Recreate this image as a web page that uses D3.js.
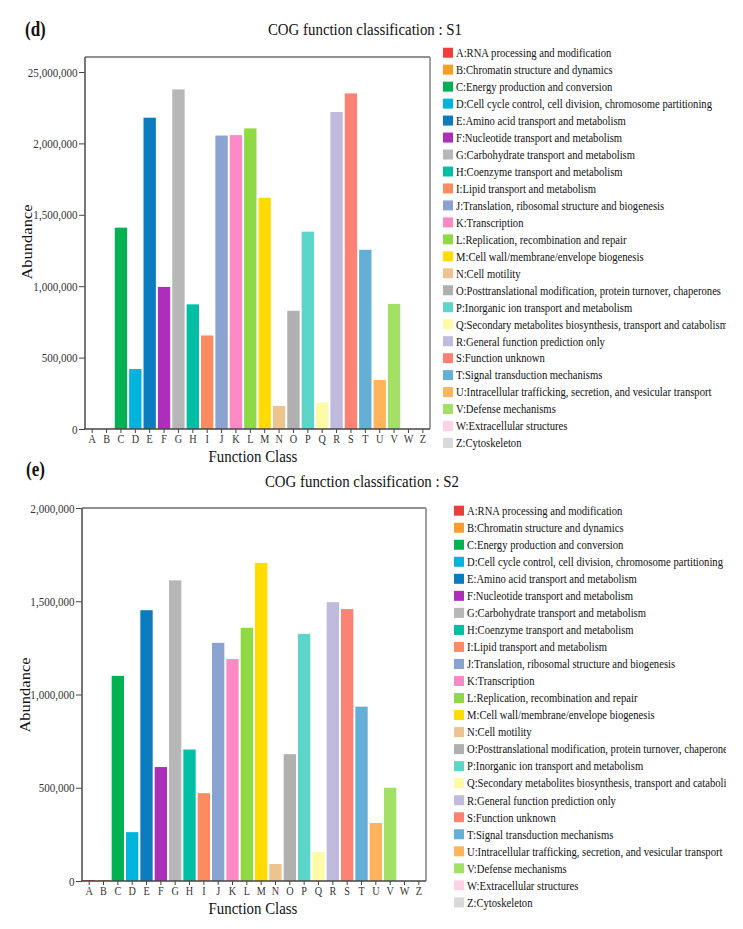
<!DOCTYPE html>
<html lang="en">
<head>
<meta charset="UTF-8" />
<title>COG function classification</title>
<script src="https://cdnjs.cloudflare.com/ajax/libs/d3/7.8.2/d3.min.js"></script>
<style>
  body { margin: 0; padding: 0; background: #fff; }
  svg { display: block; font-family: "Liberation Serif", "Times New Roman", serif; }
  .frame line, .tick line { vector-effect: non-scaling-stroke; }
</style>
</head>
<body>
<svg id="chart"></svg>
<script>
// ---- data -------------------------------------------------
const categories = ["A","B","C","D","E","F","G","H","I","J","K","L",
                    "M","N","O","P","Q","R","S","T","U","V","W","Z"];

const descriptions = [
  "A:RNA processing and modification",
  "B:Chromatin structure and dynamics",
  "C:Energy production and conversion",
  "D:Cell cycle control, cell division, chromosome partitioning",
  "E:Amino acid transport and metabolism",
  "F:Nucleotide transport and metabolism",
  "G:Carbohydrate transport and metabolism",
  "H:Coenzyme transport and metabolism",
  "I:Lipid transport and metabolism",
  "J:Translation, ribosomal structure and biogenesis",
  "K:Transcription",
  "L:Replication, recombination and repair",
  "M:Cell wall/membrane/envelope biogenesis",
  "N:Cell motility",
  "O:Posttranslational modification, protein turnover, chaperones",
  "P:Inorganic ion transport and metabolism",
  "Q:Secondary metabolites biosynthesis, transport and catabolism",
  "R:General function prediction only",
  "S:Function unknown",
  "T:Signal transduction mechanisms",
  "U:Intracellular trafficking, secretion, and vesicular transport",
  "V:Defense mechanisms",
  "W:Extracellular structures",
  "Z:Cytoskeleton"
];

const colors = ["#ef3d3b","#f9a024","#03b152","#00b5dd","#0a7cbf","#ad2fb9",
                "#b7b7b7","#00bfa5","#fd8b60","#8aa3d0","#fd8ac6","#8ed944",
                "#ffdb00","#edc48f","#b0b0b0","#5dd5c8","#fefaa8","#c0badc",
                "#fd8274","#62b0d5","#feb35d","#a2e066","#fdd2e6","#d9d9d9"];

const s1Values = [0, 0, 1410000, 420000, 2180000, 995000, 2378000, 873000,
                  655000, 2055000, 2058000, 2105000, 1620000, 162000, 828000,
                  1382000, 185000, 2220000, 2350000, 1255000, 343000, 876000, 0, 0];

const s2Values = [5000, 5000, 1100000, 262000, 1452000, 611000, 1612000, 705000,
                  471000, 1277000, 1190000, 1358000, 1706000, 91000, 680000,
                  1325000, 155000, 1495000, 1458000, 935000, 311000, 500000, 0, 0];

const s1TickValues = [0, 500000, 1000000, 1500000, 2000000, 2500000];
const s1TickLabels = ["0", "500,000", "1,000,000", "1,500,000", "2,000,000", "25,000,000"];
const s2TickValues = [0, 500000, 1000000, 1500000, 2000000];
const s2TickLabels = ["0", "500,000", "1,000,000", "1,500,000", "2,000,000"];

// ---- setup ------------------------------------------------
const W = 743, H = 929;
const K = 0.85;              // the figure is squeezed horizontally
const X = px => px / K;      // screen px -> viewBox units

const svg = d3.select("#chart")
  .attr("width", W).attr("height", H)
  .attr("viewBox", `0 0 ${W / K} ${H}`)
  .attr("preserveAspectRatio", "none");

svg.append("defs").append("clipPath").attr("id", "legendClip")
  .append("rect").attr("x", 0).attr("y", 0).attr("width", X(726)).attr("height", H);

function drawPanel(p) {
  const g = svg.append("g");

  const x = d3.scaleBand().domain(categories)
    .range([X(p.left), X(p.right)]).paddingInner(0.14).paddingOuter(0.07);
  const y = d3.scaleLinear().domain([0, p.yMax]).range([p.bottom, p.top]);

  // tag + title
  g.append("text").attr("x", X(p.tagX)).attr("y", p.tagY)
    .attr("font-size", 20).attr("font-weight", "bold").attr("fill", "#111")
    .text(p.tag);
  g.append("text").attr("x", X(p.titleX)).attr("y", p.titleY)
    .attr("text-anchor", "middle").attr("font-size", 17.5).attr("fill", "#111")
    .text(p.title);

  // bars
  g.append("g").selectAll("rect")
    .data(p.values)
    .join("rect")
    .attr("x", (d, i) => x(categories[i]))
    .attr("width", x.bandwidth())
    .attr("y", d => y(d))
    .attr("height", d => y(0) - y(d))
    .attr("fill", (d, i) => colors[i]);

  // frame (top + right)
  const frame = g.append("g").attr("class", "frame");
  frame.append("line").attr("x1", X(p.left)).attr("x2", X(p.right))
    .attr("y1", p.top).attr("y2", p.top).attr("stroke", "#222").attr("stroke-width", 1);
  frame.append("line").attr("x1", X(p.right)).attr("x2", X(p.right))
    .attr("y1", p.top).attr("y2", p.bottom).attr("stroke", "#8a8a8a").attr("stroke-width", 1.6);

  // y axis
  const yAxis = g.append("g").attr("transform", `translate(${X(p.left)},0)`)
    .call(d3.axisLeft(y).tickValues(p.tickValues)
      .tickFormat((d, i) => p.tickLabels[i])
      .tickSize(X(6)).tickPadding(X(1.5)));
  yAxis.select(".domain").remove();
  yAxis.selectAll(".tick line").attr("stroke", "#444").attr("stroke-width", 1);
  yAxis.selectAll(".tick text").attr("font-size", 13).attr("fill", "#333")
    .attr("font-family", "'Liberation Serif', serif");

  // x axis
  const xAxis = g.append("g").attr("transform", `translate(0,${p.bottom})`)
    .call(d3.axisBottom(x).tickSize(4).tickPadding(1.5));
  xAxis.select(".domain").remove();
  xAxis.selectAll(".tick line").attr("stroke", "#444").attr("stroke-width", 1);
  xAxis.selectAll(".tick text").attr("font-size", 12).attr("fill", "#333")
    .attr("font-family", "'Liberation Serif', serif");

  frame.append("line").attr("x1", X(p.left)).attr("x2", X(p.left))
    .attr("y1", p.top).attr("y2", p.bottom).attr("stroke", "#555").attr("stroke-width", 1.6);
  frame.append("line").attr("x1", X(p.left - 1)).attr("x2", X(p.right))
    .attr("y1", p.bottom).attr("y2", p.bottom).attr("stroke", "#444").attr("stroke-width", 1.6);
  g.node().appendChild(frame.node());

  // axis titles
  g.append("text").attr("x", X(p.xlabX)).attr("y", p.xlabY)
    .attr("text-anchor", "middle").attr("font-size", 17.5).attr("fill", "#111")
    .text("Function Class");
  g.append("text")
    .attr("transform", `translate(${X(p.ylabX)},${p.ylabY}) rotate(-90)`)
    .attr("text-anchor", "middle").attr("font-size", 16.5).attr("fill", "#111")
    .text("Abundance");

  // legend
  const leg = g.append("g").attr("clip-path", "url(#legendClip)");
  const rows = leg.selectAll("g").data(descriptions).join("g")
    .attr("transform", (d, i) => `translate(0,${p.legY0 + i * p.legStep})`);
  rows.append("rect").attr("x", X(p.legSqX)).attr("y", -5)
    .attr("width", X(10)).attr("height", 10)
    .attr("fill", (d, i) => colors[i]);
  rows.append("text").attr("x", X(p.legTextX)).attr("y", 4.3)
    .attr("font-size", 12.5).attr("fill", "#111")
    .text(d => d);
}

drawPanel({
  tag: "(d)", tagX: 25, tagY: 36,
  title: "COG function classification : S1", titleX: 365, titleY: 35,
  values: s1Values, tickValues: s1TickValues, tickLabels: s1TickLabels,
  yMax: 2605000,
  left: 85, right: 430, top: 57, bottom: 429,
  xlabX: 253, xlabY: 462, ylabX: 32, ylabY: 242,
  legSqX: 443, legTextX: 456, legY0: 52.7, legStep: 16.97
});

drawPanel({
  tag: "(e)", tagX: 26, tagY: 476,
  title: "COG function classification : S2", titleX: 362, titleY: 487,
  values: s2Values, tickValues: s2TickValues, tickLabels: s2TickLabels,
  yMax: 2000000,
  left: 82, right: 426, top: 508, bottom: 881,
  xlabX: 253, xlabY: 914, ylabX: 30, ylabY: 695,
  legSqX: 454, legTextX: 467, legY0: 510.7, legStep: 17.03
});
</script>
</body>
</html>
